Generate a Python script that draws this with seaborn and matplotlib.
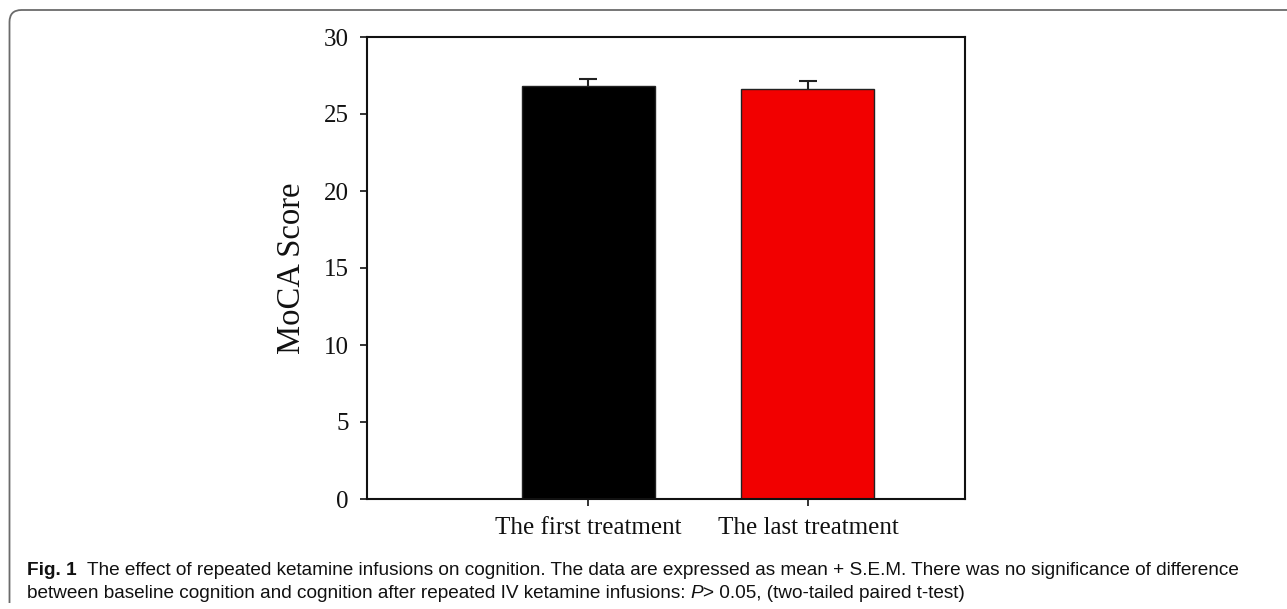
import matplotlib
matplotlib.use('Agg')
import matplotlib.pyplot as plt
import seaborn as sns
import pandas as pd
import numpy as np
from matplotlib.path import Path
from matplotlib.patches import PathPatch

categories = ['The first treatment', 'The last treatment']
means = [26.8, 26.65]
sems = [0.5, 0.52]
bar_colors = ['#000000', '#F20000']
y_ticks = [0, 5, 10, 15, 20, 25, 30]
y_label = 'MoCA Score'
caption_bold = 'Fig. 1'
caption_line1 = ('The effect of repeated ketamine infusions on cognition. The data are expressed as '
                 'mean + S.E.M. There was no significance of difference')
caption_line2a = 'between baseline cognition and cognition after repeated IV ketamine infusions: '
caption_line2_italic = 'P'
caption_line2b = '> 0.05, (two-tailed paired t-test)'

sns.set_theme(style='white')
plt.rcParams['font.family'] = ['Liberation Serif', 'DejaVu Serif']

W, H = 1287, 609
fig = plt.figure(figsize=(W / 100, H / 100), dpi=100)
ax = fig.add_axes([367 / W, (H - 499) / H, (965 - 367) / W, (499 - 37) / H])

df = pd.DataFrame({'cond': categories, 'score': means})
sns.barplot(data=df, x='cond', y='score', hue='cond', palette=bar_colors, order=categories,
            hue_order=categories, width=0.605, errorbar=None, edgecolor='#222222',
            linewidth=1.0, legend=False, saturation=1, ax=ax)
eb = ax.errorbar(range(len(categories)), means, yerr=[[0] * len(sems), sems], fmt='none',
                 ecolor='#222222', elinewidth=1.5, capsize=6.5, capthick=1.5, zorder=5)
for cl in eb[1]:
    if np.allclose(cl.get_ydata(), means):
        cl.set_visible(False)

ax.set_xlim(-1.005, 1.714)
ax.set_ylim(0, 30)
ax.set_yticks(y_ticks)
ax.set_yticklabels([str(t) for t in y_ticks])
ax.set_xlabel('')
ax.set_ylabel(y_label, fontsize=23.5, labelpad=12, color='#111111')
for s in ax.spines.values():
    s.set_visible(True)
    s.set_color('#111111')
    s.set_linewidth(1.5)
ax.tick_params(axis='y', which='major', left=True, direction='out', length=5, width=1.2,
               labelsize=18, pad=8, colors='#111111')
ax.tick_params(axis='x', which='major', bottom=True, direction='out', length=5, width=1.2,
               labelsize=18, pad=8, colors='#111111')

# rounded frame (left + top edges)
r = 12
verts = [(9.5 / W, 1 - 603 / H), (9.5 / W, 1 - (10 + r) / H),
         (9.5 / W, 1 - 10 / H), ((9.5 + r) / W, 1 - 10 / H),
         (1.0, 1 - 10 / H)]
codes = [Path.MOVETO, Path.LINETO, Path.CURVE3, Path.CURVE3, Path.LINETO]
fig.add_artist(PathPatch(Path(verts, codes), transform=fig.transFigure, fill=False,
                         edgecolor='#6b6b6b', linewidth=1.3))

# caption
cap_font = ['Liberation Sans Narrow', 'Liberation Sans', 'DejaVu Sans']
cap_size = 13.7
renderer = fig.canvas.get_renderer()


def runs(x_px, y_px, parts):
    x = x_px
    for text, weight, style in parts:
        t = fig.text(x / W, 1 - y_px / H, text, fontsize=cap_size, family=cap_font,
                     fontweight=weight, fontstyle=style, color='#111111',
                     ha='left', va='baseline')
        bb = t.get_window_extent(renderer=renderer)
        x += bb.width
    return x


runs(27, 575, [(caption_bold + '  ', 'bold', 'normal'), (caption_line1, 'normal', 'normal')])
runs(27, 598, [(caption_line2a, 'normal', 'normal'), (caption_line2_italic, 'normal', 'italic'),
               (caption_line2b, 'normal', 'normal')])

fig.savefig('out.png', dpi=100)
